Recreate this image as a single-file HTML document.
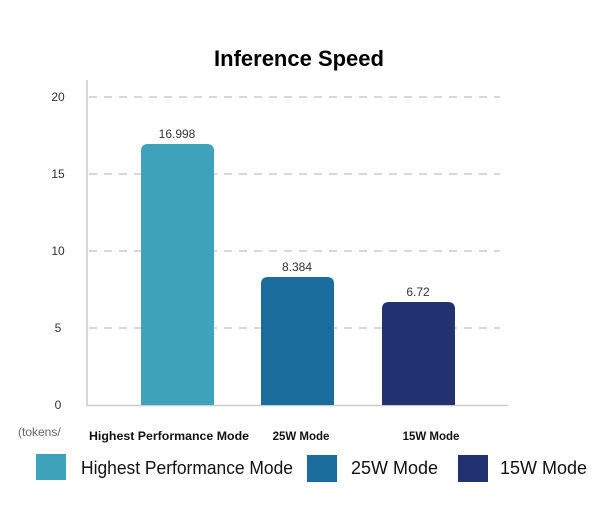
<!DOCTYPE html>
<html><head><style>
body{margin:0;background:#fff;}
svg text{font-family:"Liberation Sans",sans-serif;}
</style></head><body>
<svg width="610" height="500" xmlns="http://www.w3.org/2000/svg">
<text x="299" y="66" text-anchor="middle" font-size="22" font-weight="bold" fill="#000">Inference Speed</text>
<g stroke="#ccc" stroke-width="1.5" stroke-dasharray="8,7">
<line x1="89" y1="97" x2="500" y2="97"/>
<line x1="89" y1="174" x2="500" y2="174"/>
<line x1="89" y1="251" x2="500" y2="251"/>
<line x1="89" y1="328" x2="500" y2="328"/>
</g>
<line x1="87" y1="80" x2="87" y2="406" stroke="#ccc" stroke-width="1.5"/>
<line x1="87" y1="405.5" x2="508" y2="405.5" stroke="#ccc" stroke-width="1.5"/>
<g font-size="12" fill="#333" text-anchor="middle">
<text x="58" y="101">20</text>
<text x="58" y="178">15</text>
<text x="58" y="255">10</text>
<text x="58" y="332">5</text>
<text x="58" y="409">0</text>
</g>
<path d="M141 405 V151 Q141 144 148 144 H207 Q214 144 214 151 V405Z" fill="#3ea2bb"/>
<path d="M261 405 V284 Q261 277 268 277 H327 Q334 277 334 284 V405Z" fill="#1a6c9c"/>
<path d="M382 405 V309 Q382 302 389 302 H448 Q455 302 455 309 V405Z" fill="#223270"/>
<g font-size="12" fill="#333" text-anchor="middle">
<text x="177" y="138">16.998</text>
<text x="297" y="271">8.384</text>
<text x="418" y="296">6.72</text>
</g>
<text x="18" y="436" font-size="12" fill="#666">(tokens/</text>
<g font-size="11.5" font-weight="bold" fill="#111" text-anchor="middle">
<text x="169" y="440" textLength="160" lengthAdjust="spacingAndGlyphs">Highest Performance Mode</text>
<text x="301" y="440">25W Mode</text>
<text x="431" y="440">15W Mode</text>
</g>
<rect x="36" y="454" width="30" height="26" fill="#3ea2bb"/>
<rect x="307" y="455" width="30" height="27" fill="#1a6c9c"/>
<rect x="458" y="455" width="30" height="27" fill="#223270"/>
<g font-size="18" fill="#111">
<text x="81" y="474" textLength="212" lengthAdjust="spacingAndGlyphs">Highest Performance Mode</text>
<text x="351" y="474">25W Mode</text>
<text x="500" y="474">15W Mode</text>
</g>
</svg>
</body></html>
